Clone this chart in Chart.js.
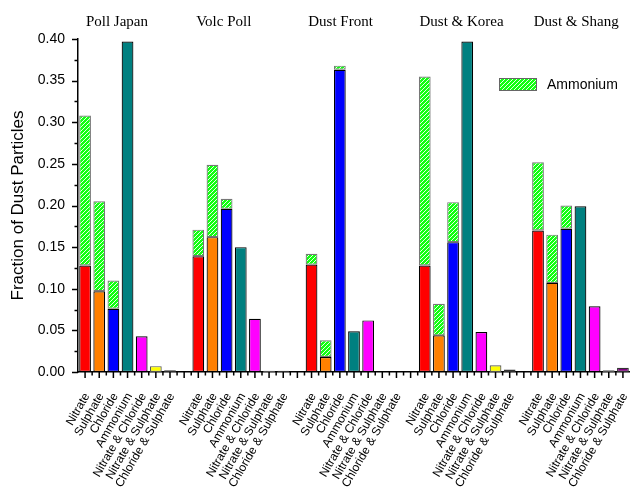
<!DOCTYPE html>
<html>
<head>
<meta charset="utf-8">
<script src="https://cdn.jsdelivr.net/npm/chart.js@4.4.1/dist/chart.umd.min.js"></script>
<style>
html,body{margin:0;padding:0;background:#fff;}
#wrap{width:630px;height:489px;position:relative;}
</style>
</head>
<body>
<div id="wrap"><canvas id="c" width="630" height="489"></canvas></div>
<script>
// ---- data ----
const groups = ["Poll Japan", "Volc Poll", "Dust Front", "Dust & Korea", "Dust & Shang"];
const species = ["Nitrate", "Sulphate", "Chloride", "Ammonium", "Nitrate & Chloride", "Nitrate & Sulphate", "Chloride & Sulphate"];
// base fractions per group (species order)
const pollJapan  = [0.128, 0.097, 0.076, 0.397, 0.043, 0.007, 0.002];
const volcPoll   = [0.139, 0.162, 0.196, 0.150, 0.064, 0.0015, 0.0015];
const dustFront  = [0.129, 0.018, 0.363, 0.049, 0.062, 0, 0];
const dustKorea  = [0.128, 0.044, 0.156, 0.397, 0.048, 0.008, 0.003];
const dustShang  = [0.170, 0.107, 0.172, 0.199, 0.079, 0.002, 0.005];
// ammonium stacked on top of nitrate / sulphate / chloride
const pollJapanAmm = [0.180, 0.108, 0.034];
const volcPollAmm  = [0.032, 0.087, 0.012];
const dustFrontAmm = [0.013, 0.020, 0.005];
const dustKoreaAmm = [0.227, 0.038, 0.048];
const dustShangAmm = [0.082, 0.058, 0.028];
const yTicks = [0, 0.05, 0.10, 0.15, 0.20, 0.25, 0.30, 0.35, 0.40];

const baseGroups = [pollJapan, volcPoll, dustFront, dustKorea, dustShang];
const ammGroups = [pollJapanAmm, volcPollAmm, dustFrontAmm, dustKoreaAmm, dustShangAmm];
const speciesColors = ["#FF0000", "#FF8000", "#0000FF", "#008080", "#FF00FF", "#FFFF00", "#800080"];
const speciesBorders = ["#000", "#000", "#000", "#000", "#000", "#555", "#333"];

// build category table
const labels = [], baseData = [], ammData = [], colors = [], borders = [];
baseGroups.forEach((g, gi) => {
  species.forEach((s, si) => {
    labels.push(s);
    baseData.push(g[si]);
    ammData.push(si < ammGroups[gi].length ? ammGroups[gi][si] : null);
    colors.push(speciesColors[si]);
    borders.push(speciesBorders[si]);
  });
  if (gi < baseGroups.length - 1) {
    labels.push(""); baseData.push(null); ammData.push(null); colors.push("#fff"); borders.push("#fff");
  }
});

// hatch pattern
function makeHatch() {
  const s = 4;
  const c = document.createElement("canvas");
  c.width = s; c.height = s;
  const x = c.getContext("2d");
  x.fillStyle = "#11FF11";
  x.fillRect(0, 0, s, s);
  x.strokeStyle = "#ffffff";
  x.lineWidth = 0.9;
  x.beginPath();
  x.moveTo(-1, s + 1); x.lineTo(s + 1, -1);
  x.moveTo(-1, 1); x.lineTo(1, -1);
  x.moveTo(s - 1, s + 1); x.lineTo(s + 1, s - 1);
  x.stroke();
  return x.createPattern(c, "repeat");
}
const ctx = document.getElementById("c").getContext("2d");
const hatch = makeHatch();

const titleSlots = [2.25, 9.8, 18.05, 26.6, 34.7];
const labelAngle = 60;

const decor = {
  id: "decor",
  afterDraw(chart) {
    const c = chart.ctx, xs = chart.scales.x, ys = chart.scales.y, ca = chart.chartArea;
    c.save();
    c.strokeStyle = "#000";
    c.lineWidth = 1.5;
    c.beginPath();
    // y ticks (major + minor)
    for (let k = 0; k <= 16; k++) {
      const py = Math.round(ys.getPixelForValue(k * 0.025)) + 0.5;
      const len = (k % 2 === 0) ? 6 : 3.5;
      c.moveTo(ca.left, py); c.lineTo(ca.left - len, py);
    }
    // x ticks
    const w = xs.getPixelForValue(1) - xs.getPixelForValue(0);
    for (let i = 0; i < labels.length; i++) {
      const px = xs.getPixelForValue(i);
      c.moveTo(px, ca.bottom); c.lineTo(px, ca.bottom + 6);
      const bx = px - w / 2;
      if (i > 0) { c.moveTo(bx, ca.bottom); c.lineTo(bx, ca.bottom + 3.5); }
    }
    c.stroke();
    // category labels (rotated)
    c.fillStyle = "#000";
    c.font = "12px 'Liberation Sans', Arial, sans-serif";
    c.textAlign = "right";
    c.textBaseline = "middle";
    labels.forEach((lab, i) => {
      if (!lab) return;
      c.save();
      c.translate(xs.getPixelForValue(i) + 2, ca.bottom + 22);
      c.rotate(-labelAngle * Math.PI / 180);
      c.fillText(lab, 0, 0);
      c.restore();
    });
    // group titles
    c.font = "15px 'Liberation Serif', 'Times New Roman', serif";
    c.textAlign = "center";
    c.textBaseline = "middle";
    groups.forEach((g, i) => {
      c.fillText(g, xs.getPixelForValue(titleSlots[i]), 22);
    });
    // legend
    const lx = 499, ly = 78, lw = 37, lh = 12;
    c.fillStyle = hatch;
    c.fillRect(lx, ly, lw, lh);
    c.lineWidth = 1;
    c.strokeStyle = "#666";
    c.strokeRect(lx + 0.5, ly + 0.5, lw, lh);
    c.fillStyle = "#000";
    c.font = "14px 'Liberation Sans', Arial, sans-serif";
    c.textAlign = "left";
    c.fillText(chart.data.datasets[1].label, 547, ly + lh / 2 + 1);
    c.restore();
  }
};

new Chart(ctx, {
  type: "bar",
  data: {
    labels: labels,
    datasets: [
      { label: "Particle type", data: baseData, backgroundColor: colors, borderColor: borders, borderWidth: 1.2, borderSkipped: false, stack: "s", barPercentage: 0.83, categoryPercentage: 1.0 },
      { label: "Ammonium", data: ammData, backgroundColor: hatch, borderColor: "#777", borderWidth: 1.2, borderSkipped: false, stack: "s", barPercentage: 0.83, categoryPercentage: 1.0 }
    ]
  },
  options: {
    responsive: false,
    animation: false,
    devicePixelRatio: 1,
    layout: { padding: { top: 39, right: 0, left: 0, bottom: 0 } },
    plugins: { legend: { display: false }, tooltip: { enabled: false }, title: { display: false } },
    scales: {
      x: {
        stacked: true, offset: true,
        grid: { display: false, drawTicks: false },
        border: { display: true, color: "#000", width: 1.5 },
        ticks: { display: false, autoSkip: false },
        afterFit(scale) { scale.height = 117; }
      },
      y: {
        stacked: true, min: 0, max: 0.40,
        grid: { display: false, drawTicks: false },
        border: { display: true, color: "#000", width: 1.5 },
        afterBuildTicks(scale) { scale.ticks = yTicks.map(v => ({ value: v })); },
        ticks: { padding: 13, color: "#000", font: { family: "'Liberation Sans', Arial, sans-serif", size: 14 }, callback: v => Number(v).toFixed(2) },
        title: { display: true, text: "Fraction of Dust Particles", color: "#000", font: { family: "'Liberation Sans', Arial, sans-serif", size: 17 }, padding: { top: 8, bottom: 0 } },
        afterFit(scale) { scale.width = 78; }
      }
    }
  },
  plugins: [decor]
});
</script>
</body>
</html>
